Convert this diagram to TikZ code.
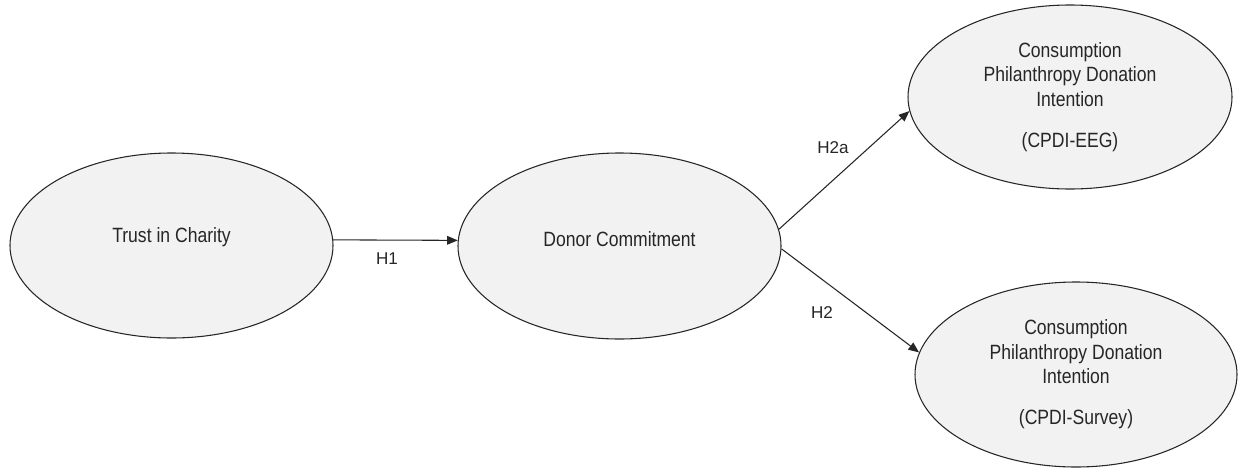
\documentclass[tikz,border=0pt]{standalone}
\usepackage{fontspec}
\setmainfont{Liberation Sans}
\newfontfamily\narrowfont{Liberation Sans}[FakeStretch=0.85]
\usetikzlibrary{arrows.meta,shapes.geometric}
\definecolor{ellfill}{HTML}{F2F2F2}
\definecolor{ink}{HTML}{262626}
\tikzset{
  construct/.style={ellipse, draw=ink, line width=0.8pt, fill=ellfill, inner sep=0pt},
  ctext/.style={font=\narrowfont\fontsize{15.5pt}{18.4pt}\selectfont, align=center, text=ink, inner sep=0pt},
  hyp/.style={font=\fontsize{12.8pt}{15pt}\selectfont, text=ink, inner sep=0pt},
  link/.style={draw=ink, line width=0.8pt, -{Triangle[length=8pt,width=6.5pt]}}
}
\begin{document}
\begin{tikzpicture}[x=0.75pt, y=-0.75pt]
\useasboundingbox (0,0) rectangle (1241,468);
\node[construct, minimum width=242.25pt, minimum height=138.75pt,
      label={[ctext, yshift=6.4pt]center:Trust in Charity}] (trust) at (171.5,245.5) {};
\node[construct, minimum width=242.25pt, minimum height=139.5pt,
      label={[ctext, yshift=5.3pt]center:Donor Commitment}] (donor) at (619.5,246) {};
\node[construct, minimum width=243pt, minimum height=138pt,
      label={[ctext]center:Consumption\\Philanthropy Donation\\Intention\\[12.4pt](CPDI-EEG)}] (eeg) at (1070,97) {};
\node[construct, minimum width=241.5pt, minimum height=138.75pt,
      label={[ctext]center:Consumption\\Philanthropy Donation\\Intention\\[12.4pt](CPDI-Survey)}] (survey) at (1076,374.5) {};
\draw[link] (trust.2) -- (donor.178);
\draw[link] (donor.6) -- (eeg.185);
\draw[link] (donor.359) -- (survey.172);
\node[hyp] (h1) at (387,259) {H1};
\node[hyp] (h2a) at (833,148) {H2a};
\node[hyp] (h2) at (822,313) {H2};
\end{tikzpicture}
\end{document}
